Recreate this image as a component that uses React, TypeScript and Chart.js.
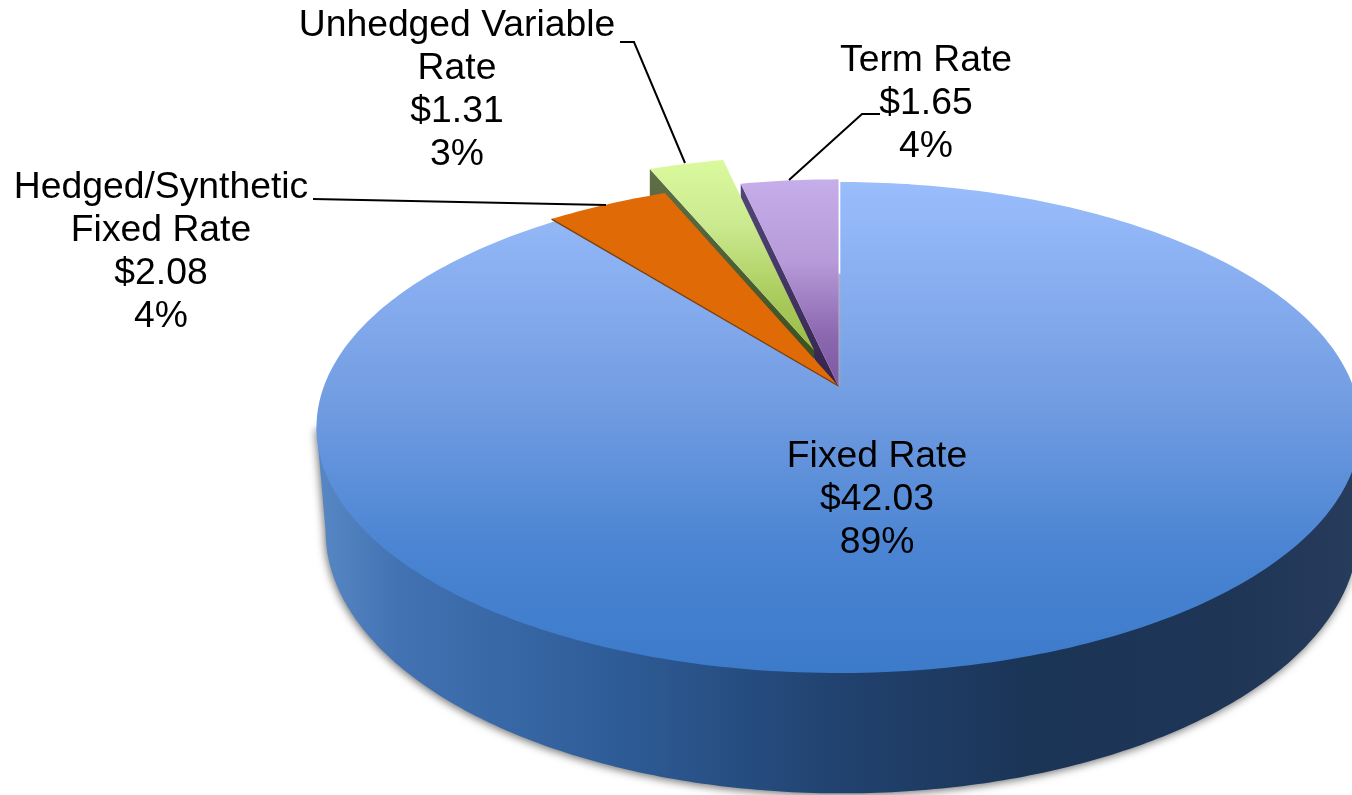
import React, { useEffect, useRef } from "react";
import { Chart, registerables } from "chart.js";

Chart.register(...registerables);

// ---- data ----
const categories = ["Fixed Rate", "Hedged/Synthetic Fixed Rate", "Unhedged Variable Rate", "Term Rate"];
const amounts = [42.03, 2.08, 1.31, 1.65];
const percents = ["89%", "4%", "3%", "4%"];
const nameLines = [["Fixed Rate"], ["Hedged/Synthetic", "Fixed Rate"], ["Unhedged Variable", "Rate"], ["Term Rate"]];

// ---- style / layout ----
const W = 1352;
const H = 795;
const explode = [0, 0, 0.16, 0];
const rimScale = [1, 1.015, 1, 1.015];
const depth = [0, 0, 27, 17];
const labelAnchors = [
  { x: 877, y: 467 },
  { x: 161, y: 198 },
  { x: 457, y: 36 },
  { x: 926, y: 71 },
];
const leaders = [
  null,
  [[313, 199], [606, 205]],
  [[620, 42], [634, 42], [685, 163]],
  [[880, 114], [862, 114], [789, 180]],
];
const FONT = '37.3px "Liberation Sans", Arial, sans-serif';
const K = 0.169;
const topDisc = { x0: 838.5, y0: 386, A: 238.5, B: 514.5 };
const bottomDisc = { x0: 842, y0: 486.5, A: 255, B: 509 };

type Disc = typeof topDisc;
const project = (u: number, v: number, d: Disc): [number, number] => {
  const w = 1 - K * v;
  return [d.x0 + (d.B * u) / w, d.y0 + (d.A * v) / w];
};

const sectorPoints = (a0: number, a1: number, off: number, scale: number): [number, number][] => {
  const mid = (a0 + a1) / 2;
  const ox = Math.cos(mid) * off;
  const oy = Math.sin(mid) * off;
  const pts: [number, number][] = [project(ox, oy, topDisc)];
  const n = Math.max(4, Math.ceil(((a1 - a0) * 180) / Math.PI));
  for (let i = 0; i <= n; i++) {
    const a = a0 + ((a1 - a0) * i) / n;
    pts.push(project(ox + scale * Math.cos(a), oy + scale * Math.sin(a), topDisc));
  }
  return pts;
};

const tracePoly = (ctx: CanvasRenderingContext2D, pts: [number, number][]) => {
  ctx.beginPath();
  pts.forEach((p, i) => (i ? ctx.lineTo(p[0], p[1]) : ctx.moveTo(p[0], p[1])));
  ctx.closePath();
};

const vGrad = (ctx: CanvasRenderingContext2D, y0: number, y1: number, stops: [number, string][]) => {
  const g = ctx.createLinearGradient(0, y0, 0, y1);
  stops.forEach(([o, c]) => g.addColorStop(o, c));
  return g;
};

const pie3d = {
  id: "pie3d",
  beforeDatasetsDraw(chart: any) {
    const ctx: CanvasRenderingContext2D = chart.ctx;
    const arcs = chart.getDatasetMeta(0).data;
    const sectors = arcs.map((arc: any, i: number) =>
      sectorPoints(arc.startAngle, arc.endAngle, explode[i], rimScale[i])
    );

    ctx.save();

    // outer wall of the big slice
    const aL = Math.PI - Math.asin(K);
    const aR = Math.asin(K);
    const wall: [number, number][] = [project(Math.cos(aL), Math.sin(aL), topDisc)];
    for (let i = 0; i <= 240; i++) {
      const a = aL + ((aR - aL) * i) / 240;
      wall.push(project(Math.cos(a), Math.sin(a), bottomDisc));
    }
    wall.push(project(Math.cos(aR), Math.sin(aR), topDisc));
    const wg = ctx.createLinearGradient(316, 0, 1360, 0);
    [
      [0, "#5888c4"],
      [0.08, "#4272b2"],
      [0.27, "#2f5e9a"],
      [0.5, "#21426f"],
      [0.68, "#1b3557"],
      [0.87, "#1e3556"],
      [1, "#283c5c"],
    ].forEach(([o, c]) => wg.addColorStop(o as number, c as string));
    ctx.save();
    ctx.shadowColor = "rgba(0,0,0,0.55)";
    ctx.shadowBlur = 9;
    ctx.shadowOffsetX = -1;
    ctx.shadowOffsetY = 2;
    ctx.fillStyle = wg;
    tracePoly(ctx, wall);
    ctx.fill();
    ctx.restore();

    // inner walls of the small slices
    const wallColors: Record<number, [string, string]> = {
      2: ["#5f7048", "#3e5122"],
      3: ["#52477a", "#35244c"],
    };
    [3, 2].forEach((i) => {
      const p = sectors[i];
      const d = depth[i];
      const q: [number, number][] = [p[1], [p[1][0], p[1][1] + d], [p[0][0], p[0][1] + d * 1.45], p[0]];
      ctx.fillStyle = vGrad(ctx, p[1][1], p[0][1], [
        [0, wallColors[i][0]],
        [1, wallColors[i][1]],
      ]);
      tracePoly(ctx, q);
      ctx.fill();
    });

    // big slice top
    ctx.fillStyle = vGrad(ctx, 182, 673, [
      [0, "#9abdfc"],
      [0.44, "#739de2"],
      [0.75, "#4a84d2"],
      [1, "#3c7bca"],
    ]);
    tracePoly(ctx, sectors[0]);
    ctx.fill();

    // light seam at twelve o'clock
    const apex = project(0, 0, topDisc);
    const seam = vGrad(ctx, 180, apex[1], [
      [0, "#ffffff"],
      [0.45, "#ffffff"],
      [0.46, "#aab2c4"],
      [1, "#98a4bc"],
    ]);
    ctx.strokeStyle = seam;
    ctx.lineWidth = 2;
    ctx.beginPath();
    ctx.moveTo(apex[0] + 0.8, 180);
    ctx.lineTo(apex[0] + 0.8, apex[1]);
    ctx.stroke();

    // purple
    ctx.fillStyle = vGrad(ctx, 179, 386, [
      [0, "#c6aeea"],
      [0.4, "#b69ad9"],
      [0.75, "#8c68b0"],
      [1, "#7c58a6"],
    ]);
    tracePoly(ctx, sectors[3]);
    ctx.fill();

    // green
    ctx.fillStyle = vGrad(ctx, 158, 350, [
      [0, "#dbfa9e"],
      [0.35, "#cbe98e"],
      [0.75, "#a8c95a"],
      [1, "#99bd46"],
    ]);
    tracePoly(ctx, sectors[2]);
    ctx.fill();

    // orange
    ctx.fillStyle = "#e06a05";
    tracePoly(ctx, sectors[1]);
    ctx.fill();
    const o = sectors[1];
    ctx.strokeStyle = "#7a4010";
    ctx.lineWidth = 1.4;
    ctx.beginPath();
    ctx.moveTo(o[0][0], o[0][1]);
    ctx.lineTo(o[1][0], o[1][1]);
    ctx.stroke();

    ctx.restore();
    return false;
  },
  afterDraw(chart: any) {
    const ctx: CanvasRenderingContext2D = chart.ctx;
    ctx.save();
    ctx.strokeStyle = "#000000";
    ctx.lineWidth = 2;
    leaders.forEach((l) => {
      if (!l) return;
      ctx.beginPath();
      l.forEach((p, i) => (i ? ctx.lineTo(p[0], p[1]) : ctx.moveTo(p[0], p[1])));
      ctx.stroke();
    });
    ctx.fillStyle = "#000000";
    ctx.font = FONT;
    ctx.textAlign = "center";
    ctx.textBaseline = "alphabetic";
    categories.forEach((_, i) => {
      const lines = [...nameLines[i], "$" + amounts[i].toFixed(2), percents[i]];
      lines.forEach((t, j) => ctx.fillText(t, labelAnchors[i].x, labelAnchors[i].y + j * 43));
    });
    ctx.restore();
  },
};

export default function App() {
  const ref = useRef<HTMLCanvasElement>(null);
  useEffect(() => {
    document.body.style.margin = "0";
    document.body.style.overflow = "hidden";
    const chart = new Chart(ref.current as HTMLCanvasElement, {
      type: "pie",
      data: {
        labels: categories,
        datasets: [{ data: amounts, borderWidth: 0 }],
      },
      options: {
        responsive: false,
        animation: false,
        layout: { padding: 0 },
        plugins: { legend: { display: false }, tooltip: { enabled: false } },
      },
      plugins: [pie3d],
    } as any);
    return () => chart.destroy();
  }, []);
  return <canvas ref={ref} width={W} height={H} style={{ display: "block", width: W, height: H }} />;
}
